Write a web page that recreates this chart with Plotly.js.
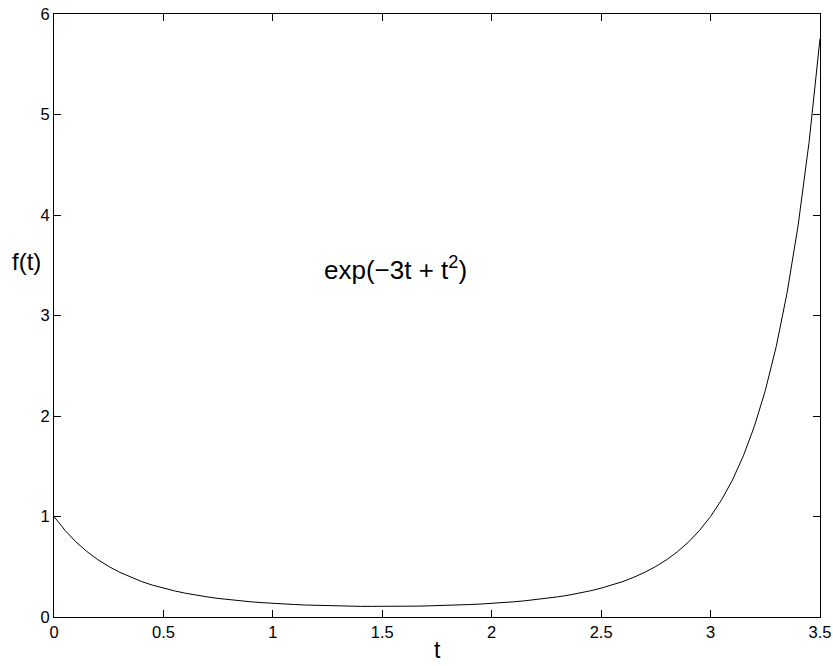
<!DOCTYPE html>
<html>
<head>
<meta charset="utf-8">
<script src="https://cdn.plot.ly/plotly-3.0.1.min.js"></script>
<style>html,body{margin:0;padding:0;background:#fff;}#chart{width:833px;height:666px;}</style>
</head>
<body>
<div id="chart"></div>
<script>
// Values
const tValues = [0,0.05,0.1,0.15,0.2,0.25,0.3,0.35,0.4,0.45,0.5,0.55,0.6,0.65,0.7,0.75,0.8,0.85,0.9,0.95,
  1.0,1.05,1.1,1.15,1.2,1.25,1.3,1.35,1.4,1.45,1.5,1.55,1.6,1.65,1.7,1.75,1.8,1.85,1.9,1.95,
  2.0,2.05,2.1,2.15,2.2,2.25,2.3,2.35,2.4,2.45,2.5,2.55,2.6,2.65,2.7,2.75,2.8,2.85,2.9,2.95,
  3.0,3.05,3.1,3.15,3.2,3.25,3.3,3.35,3.4,3.45,3.5];
const fValues = [1.000,0.863,0.748,0.652,0.571,0.503,0.445,0.396,0.353,0.317,0.287,0.260,0.237,0.217,0.200,0.185,0.172,0.161,0.151,0.143,
  0.135,0.129,0.124,0.119,0.115,0.112,0.110,0.108,0.106,0.106,0.105,0.106,0.106,0.108,0.110,0.112,0.115,0.119,0.124,0.129,
  0.135,0.143,0.151,0.161,0.172,0.185,0.200,0.217,0.237,0.260,0.287,0.317,0.353,0.396,0.445,0.503,0.571,0.652,0.748,0.863,
  1.000,1.165,1.363,1.604,1.896,2.253,2.691,3.230,3.896,4.723,5.755];
const xTicks = [0,0.5,1,1.5,2,2.5,3,3.5];
const xTickLabels = ['0','0.5','1','1.5','2','2.5','3','3.5'];
const yTicks = [0,1,2,3,4,5,6];
const yTickLabels = ['0','1','2','3','4','5','6'];
const xLabel = 't';
const yLabel = 'f(t)';
const curveLabel = 'exp(\u22123t + t<sup>2</sup>)';

const font = 'Liberation Sans, Arial, Helvetica, sans-serif';
const axisCommon = {
  showline: true, linecolor: '#000', linewidth: 1, mirror: 'ticks',
  ticks: 'inside', ticklen: 7, tickcolor: '#000', tickwidth: 1,
  showgrid: false, zeroline: false, tickmode: 'array',
  tickfont: {family: font, size: 16.5, color: '#000'}, fixedrange: true
};
const layout = {
  width: 833, height: 666,
  margin: {l: 54, r: 13, t: 14, b: 49, pad: 0},
  paper_bgcolor: '#fff', plot_bgcolor: '#fff',
  showlegend: false,
  xaxis: Object.assign({}, axisCommon, {range: [0, 3.5], tickvals: xTicks, ticktext: xTickLabels}),
  yaxis: Object.assign({}, axisCommon, {range: [0, 6], tickvals: yTicks, ticktext: yTickLabels}),
  annotations: [
    {text: xLabel, xref: 'paper', yref: 'paper', x: 0.5, y: 0, yshift: -48, xanchor: 'center', yanchor: 'bottom',
     showarrow: false, font: {family: font, size: 23, color: '#000'}},
    {text: yLabel, xref: 'paper', yref: 'paper', x: 0, xshift: -28, y: 0.59, xanchor: 'center', yanchor: 'middle',
     showarrow: false, font: {family: font, size: 24, color: '#000'}},
    {text: curveLabel, xref: 'x', yref: 'y', x: 1.224, y: 3.47, xanchor: 'left', yanchor: 'middle',
     showarrow: false, font: {family: font, size: 26, color: '#000'}}
  ]
};
Plotly.newPlot('chart', [{
  x: tValues, y: fValues, type: 'scatter', mode: 'lines',
  line: {color: '#000', width: 1}, hoverinfo: 'none'
}], layout, {displayModeBar: false, staticPlot: true});
</script>
</body>
</html>
